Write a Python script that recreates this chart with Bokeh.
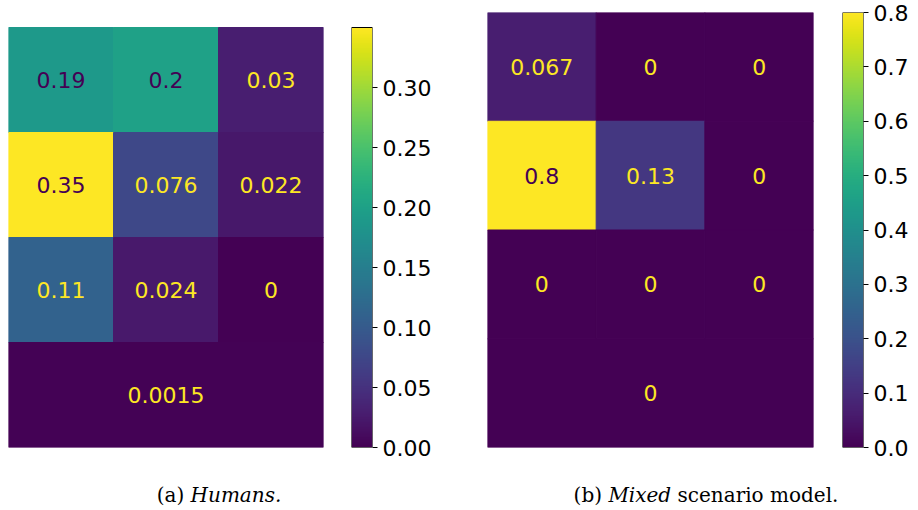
import numpy as np
from bokeh.plotting import figure
from bokeh.models import (ColumnDataSource, LinearColorMapper, Range1d,
                          FixedTicker, PrintfTickFormatter, Div)
from bokeh.layouts import row, column
from bokeh.palettes import Viridis256
from bokeh.core.properties import value
from bokeh.embed import file_html
from bokeh.resources import INLINE

# ---------------- data ----------------
# rows listed top to bottom; the last row of each matrix is one merged cell
humans_grid = [
    [0.19, 0.2, 0.03],
    [0.35, 0.076, 0.022],
    [0.11, 0.024, 0.0],
]
humans_bottom = 0.0015
humans_ticks = [0.0, 0.05, 0.10, 0.15, 0.20, 0.25, 0.30]

mixed_grid = [
    [0.067, 0.0, 0.0],
    [0.8, 0.13, 0.0],
    [0.0, 0.0, 0.0],
]
mixed_bottom = 0.0
mixed_ticks = [0.0, 0.1, 0.2, 0.3, 0.4, 0.5, 0.6, 0.7, 0.8]

caption_a = '(a) <i>Humans.</i>'
caption_b = '(b) <i>Mixed</i> scenario model.'

FONT = "DejaVu Sans"
DARK = Viridis256[0]
BRIGHT = Viridis256[-1]

# all frames share the same outer borders (Bokeh aligns them in a row);
# the shorter left panel gets white headroom inside its frame instead
TOP, BOTTOM, FRAME_H = 12, 13, 435


def heat(grid, bottom, high, width, bl, br, used_h):
    mapper = LinearColorMapper(palette=Viridis256, low=0, high=high)
    nrows = len(grid) + 1
    ncols = len(grid[0])
    xs, ys, ws, vs = [], [], [], []
    for i, r in enumerate(grid):
        for j, v in enumerate(r):
            xs.append(j + 0.5)
            ys.append(nrows - i - 0.5)
            ws.append(1)
            vs.append(v)
    xs.append(ncols / 2)
    ys.append(0.5)
    ws.append(ncols)
    vs.append(bottom)
    thresh = (max(vs) + min(vs)) / 2
    txt = [f"{v:.2g}" for v in vs]
    cols = [DARK if v > thresh else BRIGHT for v in vs]
    src = ColumnDataSource(dict(x=xs, y=ys, w=ws, v=vs, t=txt, c=cols))
    p = figure(width=width, height=TOP + FRAME_H + BOTTOM,
               x_range=Range1d(0, ncols),
               y_range=Range1d(0, nrows * FRAME_H / used_h),
               min_border_left=bl, min_border_top=TOP,
               min_border_right=br, min_border_bottom=BOTTOM,
               x_axis_location=None, y_axis_location=None,
               toolbar_location=None, output_backend="svg",
               outline_line_color=None)
    p.grid.visible = False
    p.rect(x='x', y='y', width='w', height=1, source=src,
           fill_color={'field': 'v', 'transform': mapper},
           line_color={'field': 'v', 'transform': mapper}, line_width=1)
    p.text(x='x', y='y', text='t', text_color='c', source=src,
           text_align='center', text_baseline='middle',
           text_font=value(FONT), text_font_size="22px")
    return p


def cbar(high, ticks, fmt, width, br, used_h):
    mapper = LinearColorMapper(palette=Viridis256, low=0, high=high)
    p = figure(width=width, height=TOP + FRAME_H + BOTTOM,
               x_range=Range1d(0, 1),
               y_range=Range1d(0, high * FRAME_H / used_h),
               min_border_left=0, min_border_top=TOP,
               min_border_right=br, min_border_bottom=BOTTOM,
               x_axis_location=None, y_axis_location="right",
               toolbar_location=None, output_backend="svg",
               outline_line_color=None)
    p.grid.visible = False
    p.image(image=[np.linspace(0, high, 256).reshape(-1, 1)],
            x=0, y=0, dw=1, dh=high, color_mapper=mapper)
    p.quad(left=0, right=1, bottom=0, top=high, fill_color=None,
           line_color="black", line_width=1)
    ax = p.yaxis[0]
    ax.ticker = FixedTicker(ticks=ticks)
    ax.formatter = PrintfTickFormatter(format=fmt)
    ax.axis_line_color = None
    ax.major_tick_in = 0
    ax.major_tick_out = 5
    ax.major_tick_line_color = "black"
    ax.minor_tick_line_color = None
    ax.major_label_text_font = FONT
    ax.major_label_text_font_size = "22px"
    ax.major_label_text_color = "black"
    ax.major_label_standoff = 5
    return p


humans_high = max(max(r) for r in humans_grid + [[humans_bottom]])
mixed_high = max(max(r) for r in mixed_grid + [[mixed_bottom]])

ha = heat(humans_grid, humans_bottom, humans_high, 351, 8, 28, 420)
ca = cbar(humans_high, humans_ticks, "%.2f", 108, 87, 420)
hb = heat(mixed_grid, mixed_bottom, mixed_high, 383, 28, 29, 435)
cb = cbar(mixed_high, mixed_ticks, "%.1f", 76, 55, 435)

html = (
    '<div style="position:relative;width:918px;height:50px;'
    'font-family:\'DejaVu Serif\';font-size:20px;line-height:20px;color:#000">'
    '<div style="position:absolute;left:14px;top:20px;width:400px;text-align:center">'
    + caption_a + '</div>'
    '<div style="position:absolute;left:501px;top:20px;width:400px;text-align:center">'
    + caption_b + '</div></div>'
)
caps = Div(text=html, width=918, height=50)

layout = column(row(ha, ca, hb, cb), caps)

open("out.html", "w").write(file_html(layout, INLINE))
